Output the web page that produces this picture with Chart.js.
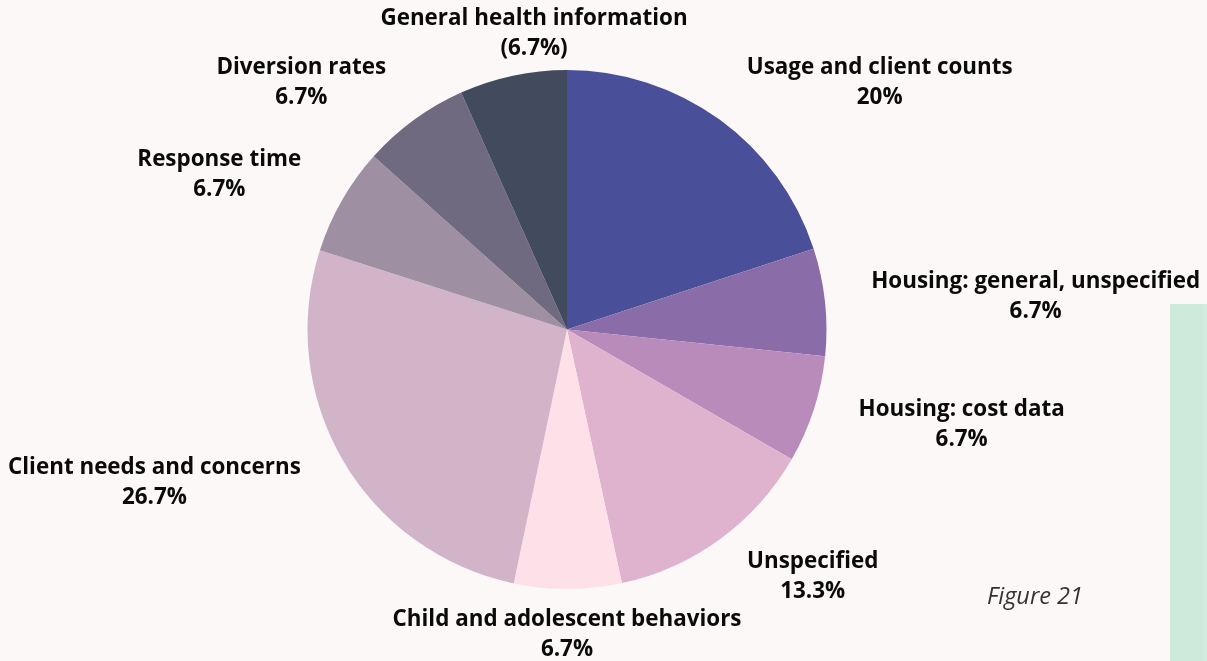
<!DOCTYPE html>
<html>
<head>
<meta charset="utf-8">
<script src="https://cdn.jsdelivr.net/npm/chart.js@4/dist/chart.umd.min.js"></script>
<style>
  html, body { margin: 0; padding: 0; background: #fcf8f7; }
  #wrap { position: relative; width: 1207px; height: 661px; overflow: hidden; background: #fcf8f7; }
  #chart { position: absolute; left: 0; top: 0; }
  #side { position: absolute; left: 1170px; top: 304px; width: 32px; height: 357px; background: #cdeadb; }
  #side2 { position: absolute; left: 1202px; top: 304px; width: 5px; height: 357px; background: #d3ece0; }
  #fig { position: absolute; left: 987px; top: 579px; font-family: "Open Sans", sans-serif; font-style: italic; font-weight: 400; font-size: 23.5px; color: #333; line-height: 32px; }
</style>
</head>
<body>
<div id="wrap">
  <canvas id="chart" width="1207" height="661"></canvas>
  <div id="side"></div>
  <div id="side2"></div>
  <div id="fig">Figure 21</div>
</div>
<script>
// Topics, their shares (percent) and the text shown under each topic name
const categories = [
  'Usage and client counts',
  'Housing: general, unspecified',
  'Housing: cost data',
  'Unspecified',
  'Child and adolescent behaviors',
  'Client needs and concerns',
  'Response time',
  'Diversion rates',
  'General health information'
];
const shares = [20, 6.7, 6.7, 13.3, 6.7, 26.7, 6.7, 6.7, 6.7];
const shareLabels = ['20%', '6.7%', '6.7%', '13.3%', '6.7%', '26.7%', '6.7%', '6.7%', '(6.7%)'];
const sliceColors = ['#4a4f99', '#8a6ca8', '#b88bba', '#dfb3ce', '#fde0e8', '#d2b4c9', '#9f8fa3', '#6f6a80', '#424a5e'];

// Where each label block sits, relative to the pie centre, in units of the radius
const labelPlacement = [
  [1.205, -0.953],
  [1.806, -0.125],
  [1.521, 0.365],
  [0.947, 0.953],
  [0.0, 1.176],
  [-1.590, 0.589],
  [-1.340, -0.595],
  [-1.024, -0.953],
  [-0.127, -1.141]
];

const outsideLabels = {
  id: 'outsideLabels',
  afterDatasetsDraw(chart) {
    const ctx = chart.ctx;
    const arc = chart.getDatasetMeta(0).data[0];
    const cx = arc.x, cy = arc.y, r = arc.outerRadius;
    ctx.save();
    ctx.font = 'bold 22.4px "Open Sans", sans-serif';
    ctx.fillStyle = '#0a0a0a';
    ctx.textAlign = 'center';
    ctx.textBaseline = 'middle';
    categories.forEach((name, i) => {
      const x = cx + labelPlacement[i][0] * r;
      const y = cy + labelPlacement[i][1] * r;
      ctx.fillText(name, x, y - 15);
      ctx.fillText(shareLabels[i], x, y + 15);
    });
    ctx.restore();
  }
};

new Chart(document.getElementById('chart'), {
  type: 'pie',
  data: {
    labels: categories,
    datasets: [{
      data: shares,
      backgroundColor: sliceColors,
      borderWidth: 0
    }]
  },
  options: {
    responsive: false,
    animation: false,
    layout: { padding: { left: 307, right: 380, top: 70, bottom: 72 } },
    plugins: {
      legend: { display: false },
      tooltip: { enabled: false }
    }
  },
  plugins: [outsideLabels]
});
</script>
</body>
</html>
